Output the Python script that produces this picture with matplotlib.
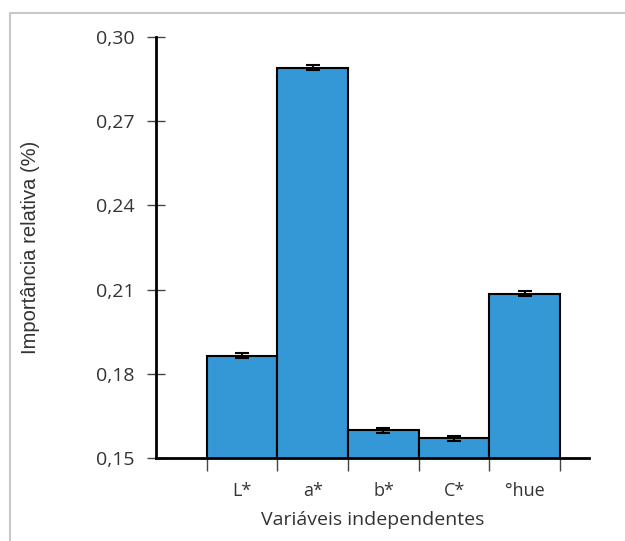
import numpy as np
import matplotlib.pyplot as plt
from matplotlib.patches import Rectangle

# data
categorias = ["L*", "a*", "b*", "C*", "°hue"]
importancia = [0.1865, 0.2890, 0.1598, 0.1570, 0.2085]
erro = [0.0009, 0.0009, 0.0009, 0.0009, 0.0009]
yticks = [0.15, 0.18, 0.21, 0.24, 0.27, 0.30]

txt = "#333333"

fig = plt.figure(figsize=(6.25, 5.41), dpi=100)

# light frame around the figure
fig.patches.append(Rectangle((10 / 625, -0.05), 1.0, 1 - 13 / 541 + 0.05,
                             transform=fig.transFigure, fill=False,
                             edgecolor="#c8c8c8", linewidth=1.5))

ax = fig.add_axes([156 / 625, 83 / 541, (589 - 156) / 625, (458 - 37) / 541])

x = np.arange(len(categorias))
ax.bar(x, importancia, width=1.0, color="#3498d6", edgecolor="black",
       linewidth=1.5, yerr=erro, capsize=5,
       error_kw=dict(elinewidth=1.5, capthick=1.5, ecolor="black"))

ax.set_ylim(0.15, 0.30)
ax.set_xlim(-1.22, 4.91)

ax.set_yticks(yticks)
ax.set_yticklabels([f"{v:.2f}".replace(".", ",") for v in yticks],
                   fontfamily="Open Sans", fontsize=14, color=txt)
ax.tick_params(axis="y", direction="inout", length=13, width=1, color="#444444",
               pad=9)

# x ticks at bar edges, labels at bar centres
ax.set_xticks(np.arange(len(categorias) + 1) - 0.5)
ax.set_xticklabels([])
ax.set_xticks(x, minor=True)
ax.set_xticklabels(categorias, minor=True, fontfamily="Open Sans", fontsize=13,
                   color=txt)
ax.tick_params(axis="x", which="major", direction="out", length=9, width=1,
               color="#444444")
ax.tick_params(axis="x", which="minor", length=0, pad=17)

for s in ["top", "right"]:
    ax.spines[s].set_visible(False)
ax.spines["left"].set_linewidth(2)
ax.spines["bottom"].set_linewidth(2)

ax.set_ylabel("Importância relativa (%)", fontfamily="Liberation Sans",
              fontsize=14.5, color=txt)
ax.yaxis.set_label_coords(-0.268, 0.5)
ax.set_xlabel("Variáveis independentes", fontfamily="Open Sans", fontsize=14,
              color=txt)
ax.xaxis.set_label_coords(0.5, -0.125)

fig.savefig("out.png", dpi=100)
